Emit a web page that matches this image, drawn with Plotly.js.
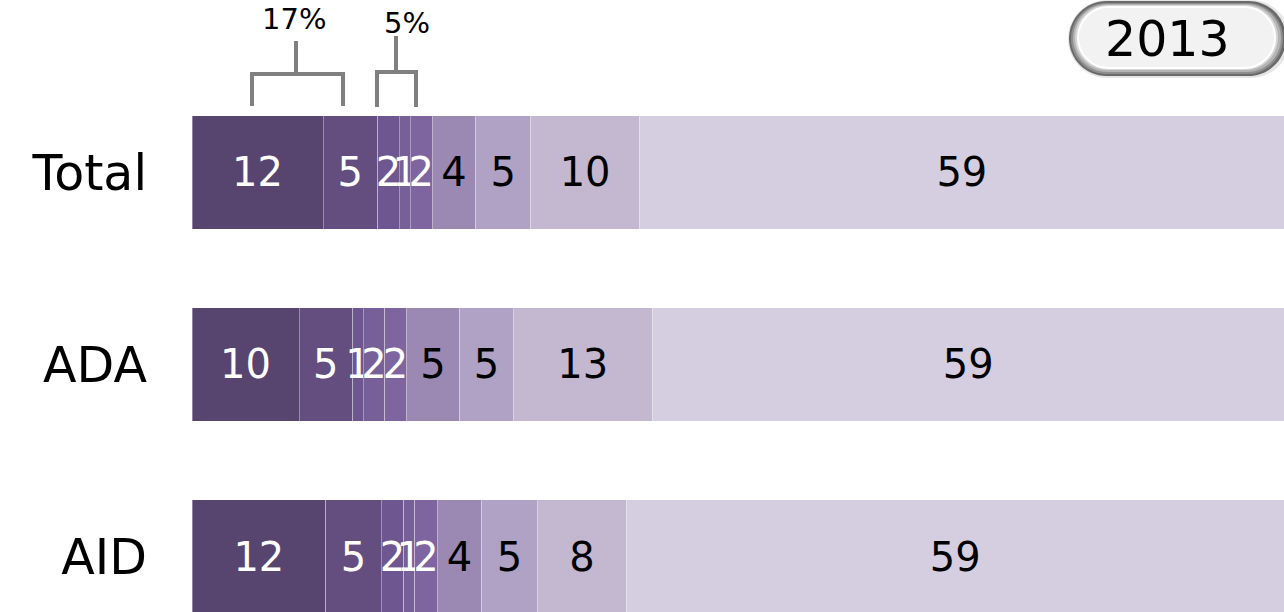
<!DOCTYPE html>
<html>
<head>
<meta charset="utf-8">
<script src="https://cdn.plot.ly/plotly-3.0.1.min.js"></script>
<style>html,body{margin:0;padding:0;background:#fff;}#chart{width:1284px;height:612px;}</style>
</head>
<body>
<div id="chart"></div>
<script>
// Data
const categories = ['Total', 'ADA', 'AID'];
const totalValues = [12, 5, 2, 1, 2, 4, 5, 10, 59];
const adaValues   = [10, 5, 1, 2, 2, 5, 5, 13, 59];
const aidValues   = [12, 5, 2, 1, 2, 4, 5, 8, 59];
const bracketLabels = ['17%', '5%'];
const yearLabel = '2013';

const segColors = ['#574570', '#634e7f', '#6e5790', '#775f97', '#7f65a0', '#9b89b3', '#b0a2c4', '#c3b8d0', '#d5cee0'];
const textColors = ['#ffffff', '#ffffff', '#ffffff', '#ffffff', '#ffffff', '#000000', '#000000', '#000000', '#000000'];

const rows = [totalValues, adaValues, aidValues];
const traces = segColors.map((c, i) => {
  const vals = rows.map(r => r[i]);
  return {
    type: 'bar',
    orientation: 'h',
    y: categories,
    x: vals,
    text: vals.map(String),
    textposition: 'inside',
    insidetextanchor: 'middle',
    constraintext: 'none',
    textangle: 0,
    cliponaxis: false,
    textfont: {family: 'DejaVu Sans', size: 40, color: textColors[i]},
    marker: {color: c, line: {color: 'rgba(255,255,255,0.35)', width: 1}},
    hoverinfo: 'x+y',
    showlegend: false
  };
});

const W = 1284, H = 612, L = 192;
const px = x => (x - L) / (W - L);      // pixel x -> paper x
const py = y => 1 - y / H;              // pixel y -> paper y

function pill(x0, y0, x1, y1) {
  const r = (y1 - y0) / 2, k = 0.5523 * r;
  const P = (x, y) => px(x).toFixed(5) + ',' + py(y).toFixed(5);
  return 'M' + P(x0 + r, y0) + ' L' + P(x1 - r, y0) +
    ' C' + P(x1 - r + k, y0) + ' ' + P(x1, y0 + r - k) + ' ' + P(x1, y0 + r) +
    ' C' + P(x1, y0 + r + k) + ' ' + P(x1 - r + k, y1) + ' ' + P(x1 - r, y1) +
    ' L' + P(x0 + r, y1) +
    ' C' + P(x0 + r - k, y1) + ' ' + P(x0, y0 + r + k) + ' ' + P(x0, y0 + r) +
    ' C' + P(x0, y0 + r - k) + ' ' + P(x0 + r - k, y0) + ' ' + P(x0 + r, y0) + ' Z';
}

const grey = '#808080';
const lw = 4;
function bracket(xl, xr, yh, yb, xs, ys) {
  return [
    {type: 'path', xref: 'paper', yref: 'paper',
     path: 'M' + px(xl) + ',' + py(yb) + ' L' + px(xl) + ',' + py(yh) + ' L' + px(xr) + ',' + py(yh) + ' L' + px(xr) + ',' + py(yb),
     line: {color: grey, width: lw}},
    {type: 'line', xref: 'paper', yref: 'paper', x0: px(xs), x1: px(xs), y0: py(yh), y1: py(ys),
     line: {color: grey, width: lw}}
  ];
}

const badge = (x0, y0, x1, y1, fill, line) => ({type: 'path', xref: 'paper', yref: 'paper',
  path: pill(x0, y0, x1, y1), fillcolor: fill, line: line || {width: 0}, layer: 'above'});

const shapes = [
  ...bracket(252, 343, 74, 106, 296, 41),
  ...bracket(377, 416, 72, 107, 396, 36),
  badge(1068, 0, 1290, 78, '#e6e6e6'),
  badge(1069, 1, 1286, 76, '#6a6a6a'),
  badge(1071, 3, 1283, 74, '#8e8e8e'),
  badge(1073, 4, 1281, 72, '#b4b4b4'),
  badge(1075, 5, 1278, 70, '#d6d6d6'),
  badge(1078, 7, 1275, 68, '#f2f2f2', {color: '#ffffff', width: 2})
];

const annotations = [
  {xref: 'paper', yref: 'paper', x: px(294), y: py(19), text: bracketLabels[0], showarrow: false,
   font: {family: 'DejaVu Sans', size: 29, color: '#000'}, xanchor: 'center', yanchor: 'middle'},
  {xref: 'paper', yref: 'paper', x: px(407), y: py(23), text: bracketLabels[1], showarrow: false,
   font: {family: 'DejaVu Sans', size: 29, color: '#000'}, xanchor: 'center', yanchor: 'middle'},
  {xref: 'paper', yref: 'paper', x: px(1167), y: py(39), text: yearLabel, showarrow: false,
   font: {family: 'DejaVu Sans', size: 49, color: '#000'}, xanchor: 'center', yanchor: 'middle'}
];

const layout = {
  width: W, height: H,
  margin: {l: L, r: 0, t: 0, b: 0, pad: 0},
  paper_bgcolor: '#ffffff', plot_bgcolor: '#ffffff',
  barmode: 'stack', barnorm: 'percent', bargap: 0.41,
  showlegend: false,
  xaxis: {range: [0, 100], visible: false, fixedrange: true},
  yaxis: {
    type: 'category', categoryorder: 'array', categoryarray: ['AID', 'ADA', 'Total'],
    range: [-0.289, 2.898], showgrid: false, zeroline: false, showline: false, ticks: '',
    ticklabelstandoff: 44,
    tickfont: {family: 'DejaVu Sans', size: 49, color: '#000'}
  },
  shapes: shapes,
  annotations: annotations,
  font: {family: 'DejaVu Sans'}
};

Plotly.newPlot('chart', traces, layout, {displayModeBar: false, staticPlot: true});
</script>
</body>
</html>
